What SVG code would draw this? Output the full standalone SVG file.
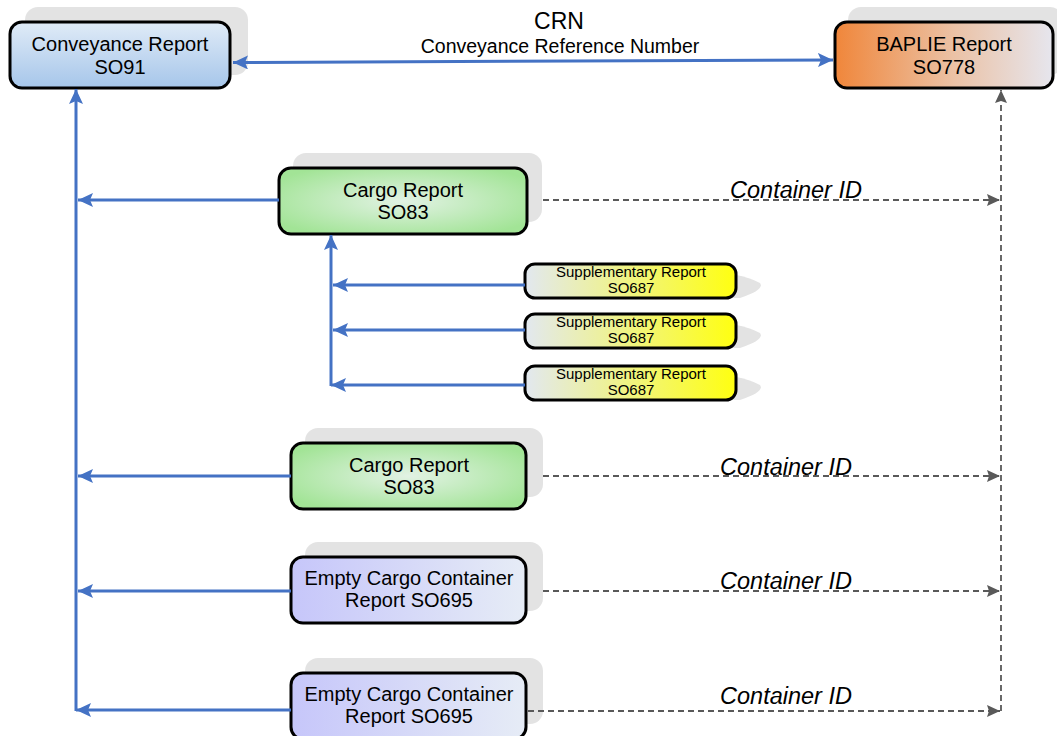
<svg xmlns="http://www.w3.org/2000/svg" width="1057" height="736" viewBox="0 0 1057 736">
<style>
.box{stroke:#000;stroke-width:3}
.shadow{fill:#e3e3e3}
.t{font-family:"Liberation Sans",Arial,sans-serif;font-size:20px;fill:#000;text-anchor:middle}
.ts{font-family:"Liberation Sans",Arial,sans-serif;font-size:15px;fill:#000;text-anchor:middle}
.lbl{font-family:"Liberation Sans",Arial,sans-serif;font-size:23.5px;font-style:italic;fill:#000;text-anchor:middle}
.blue{stroke:#4472c4;stroke-width:3;fill:none}
.dash{stroke:#595959;stroke-width:1.8;fill:none;stroke-dasharray:6 4}
</style>
<defs>
<linearGradient id="gConv" x1="0" y1="0" x2="0" y2="1"><stop offset="0" stop-color="#e0ebf7"/><stop offset="1" stop-color="#a6c6ea"/></linearGradient>
<linearGradient id="gBap" x1="0" y1="0" x2="1" y2="0"><stop offset="0" stop-color="#f0863a"/><stop offset="0.55" stop-color="#ebc2a6"/><stop offset="1" stop-color="#e6e6ee"/></linearGradient>
<radialGradient id="gCargo" cx="0.5" cy="0.5" r="0.6"><stop offset="0" stop-color="#e2f2e4"/><stop offset="1" stop-color="#a2e496"/></radialGradient>
<linearGradient id="gSupp" x1="0" y1="0" x2="1" y2="0"><stop offset="0" stop-color="#e2e8f0"/><stop offset="1" stop-color="#ffff10"/></linearGradient>
<linearGradient id="gEmpty" x1="0" y1="0" x2="1" y2="0"><stop offset="0" stop-color="#c6c6fa"/><stop offset="1" stop-color="#e6ecf6"/></linearGradient>
<marker id="ab" markerUnits="userSpaceOnUse" markerWidth="16" markerHeight="14" refX="15" refY="7" orient="auto-start-reverse"><path d="M0,0 L15,7 L0,14 L3,7 Z" fill="#4472c4"/></marker>
<marker id="ag" markerUnits="userSpaceOnUse" markerWidth="14" markerHeight="12" refX="13" refY="6" orient="auto-start-reverse"><path d="M0,0 L13,6 L0,12 L2,6 Z" fill="#595959"/></marker>
</defs>

<g id="conveyance">
<rect class="shadow" x="25" y="7" width="223" height="68" rx="13"/>
<rect class="box" x="10" y="22" width="220" height="66" rx="12" fill="url(#gConv)"/>
<text class="t" x="120" y="51">Conveyance Report</text>
<text class="t" x="120" y="74">SO91</text>
</g>

<g id="baplie">
<rect class="shadow" x="848" y="7" width="215" height="68" rx="13"/>
<rect class="box" x="835" y="22" width="218" height="66" rx="12" fill="url(#gBap)"/>
<text class="t" x="944" y="51">BAPLIE Report</text>
<text class="t" x="944" y="74">SO778</text>
</g>

<g id="cargo1">
<rect class="shadow" x="293" y="153" width="249" height="69" rx="13"/>
<rect class="box" x="279" y="168" width="248" height="66" rx="12" fill="url(#gCargo)"/>
<text class="t" x="403" y="197">Cargo Report</text>
<text class="t" x="403" y="219">SO83</text>
</g>

<g id="supp1">
<path class="shadow" d="M700,272 Q740,272 760,283 Q765,290 740,298 L700,298 Z" fill="#ececec"/>
<rect class="box" x="525" y="264" width="211" height="34" rx="10" fill="url(#gSupp)"/>
<text class="ts" x="631" y="277">Supplementary Report</text>
<text class="ts" x="631" y="293">SO687</text>
</g>

<g id="supp2">
<path class="shadow" d="M700,322 Q740,322 760,333 Q765,340 740,348 L700,348 Z" fill="#ececec"/>
<rect class="box" x="525" y="314" width="211" height="34" rx="10" fill="url(#gSupp)"/>
<text class="ts" x="631" y="327">Supplementary Report</text>
<text class="ts" x="631" y="343">SO687</text>
</g>

<g id="supp3">
<path class="shadow" d="M700,374 Q740,374 760,385 Q765,392 740,400 L700,400 Z" fill="#ececec"/>
<rect class="box" x="525" y="366" width="211" height="34" rx="10" fill="url(#gSupp)"/>
<text class="ts" x="631" y="379">Supplementary Report</text>
<text class="ts" x="631" y="395">SO687</text>
</g>

<g id="cargo2">
<rect class="shadow" x="305" y="428" width="238" height="69" rx="13"/>
<rect class="box" x="291" y="443" width="235" height="66" rx="12" fill="url(#gCargo)"/>
<text class="t" x="409" y="472">Cargo Report</text>
<text class="t" x="409" y="494">SO83</text>
</g>

<g id="empty1">
<rect class="shadow" x="305" y="542" width="238" height="69" rx="13"/>
<rect class="box" x="291" y="557" width="235" height="66" rx="12" fill="url(#gEmpty)"/>
<text class="t" x="409" y="585">Empty Cargo Container</text>
<text class="t" x="409" y="607">Report SO695</text>
</g>

<g id="empty2">
<rect class="shadow" x="305" y="658" width="238" height="66" rx="13"/>
<rect class="box" x="291" y="673" width="235" height="66" rx="12" fill="url(#gEmpty)"/>
<text class="t" x="409" y="701">Empty Cargo Container</text>
<text class="t" x="409" y="723">Report SO695</text>
</g>

<g id="connectors">
<line class="blue" x1="233" y1="62.5" x2="833" y2="60" marker-start="url(#ab)" marker-end="url(#ab)"/>
<line class="blue" x1="76" y1="711" x2="76" y2="89" marker-end="url(#ab)"/>
<line class="blue" x1="279" y1="200" x2="78" y2="200" marker-end="url(#ab)"/>
<line class="blue" x1="291" y1="476" x2="78" y2="476" marker-end="url(#ab)"/>
<line class="blue" x1="291" y1="591" x2="78" y2="591" marker-end="url(#ab)"/>
<line class="blue" x1="291" y1="710" x2="76" y2="710" marker-end="url(#ab)"/>
<line class="blue" x1="331" y1="386" x2="331" y2="235" marker-end="url(#ab)"/>
<line class="blue" x1="525" y1="285" x2="333" y2="285" marker-end="url(#ab)"/>
<line class="blue" x1="525" y1="330" x2="333" y2="330" marker-end="url(#ab)"/>
<line class="blue" x1="525" y1="385" x2="331" y2="385" marker-end="url(#ab)"/>
<line class="dash" x1="1001" y1="711" x2="1001" y2="90" marker-end="url(#ag)"/>
<line class="dash" x1="543" y1="200" x2="1000" y2="200" marker-end="url(#ag)"/>
<line class="dash" x1="543" y1="476" x2="1000" y2="476" marker-end="url(#ag)"/>
<line class="dash" x1="543" y1="591" x2="1000" y2="591" marker-end="url(#ag)"/>
<line class="dash" x1="528" y1="711" x2="1000" y2="711" marker-end="url(#ag)"/>
<text class="t" x="559" y="29" style="font-size:23px">CRN</text>
<text class="t" x="560" y="53" style="font-size:19.5px">Conveyance Reference Number</text>
<text class="lbl" x="796" y="198">Container ID</text>
<text class="lbl" x="786" y="475">Container ID</text>
<text class="lbl" x="786" y="589">Container ID</text>
<text class="lbl" x="786" y="704">Container ID</text>
</g>
</svg>
